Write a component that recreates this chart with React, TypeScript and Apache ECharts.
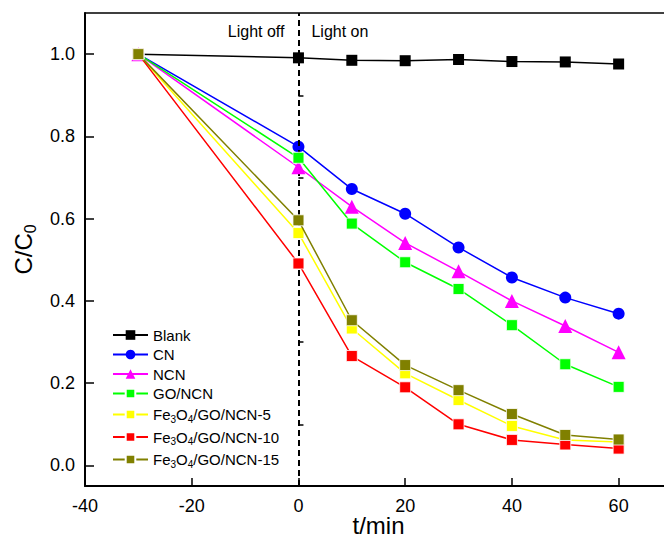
import React, { useEffect, useRef } from 'react';
import * as echarts from 'echarts';

const times = [-30, 0, 10, 20, 30, 40, 50, 60];
const seriesNames = ['Blank', 'CN', 'NCN', 'GO/NCN', 'Fe3O4/GO/NCN-5', 'Fe3O4/GO/NCN-10', 'Fe3O4/GO/NCN-15'];
const blank = [1.0, 0.991, 0.985, 0.984, 0.987, 0.982, 0.981, 0.976];
const cn = [1.0, 0.775, 0.672, 0.612, 0.53, 0.457, 0.408, 0.369];
const ncn = [1.0, 0.725, 0.629, 0.541, 0.472, 0.4, 0.339, 0.275];
const goNcn = [1.0, 0.748, 0.588, 0.494, 0.429, 0.341, 0.246, 0.191];
const fe5 = [1.0, 0.565, 0.333, 0.224, 0.159, 0.096, 0.062, 0.057];
const fe10 = [1.0, 0.491, 0.266, 0.19, 0.1, 0.062, 0.051, 0.041];
const fe15 = [1.0, 0.596, 0.353, 0.244, 0.183, 0.125, 0.074, 0.063];
const xTicks = [-40, -20, 0, 20, 40, 60];
const yTicks = [0, 0.2, 0.4, 0.6, 0.8, 1.0];
const yMinorTicks = [0.1, 0.3, 0.5, 0.7, 0.9];

const FONT = '"Liberation Sans", Arial, sans-serif';

const allValues = [blank, cn, ncn, goNcn, fe5, fe10, fe15];
const colors = ['#000000', '#0000ff', '#ff00ff', '#00ff00', '#ffff00', '#ff0000', '#808000'];
const symbols = ['rect', 'circle', 'triangle', 'rect', 'rect', 'rect', 'rect'];
const sizes = [11, 12, 14, 11, 11, 11, 11];

export default function App() {
  const ref = useRef<HTMLDivElement>(null);
  useEffect(() => {
    if (!ref.current) return;
    const chart = echarts.init(ref.current, undefined, { renderer: 'svg' });
    const series: any[] = seriesNames.map((name, i) => ({
      name,
      type: 'line',
      data: times.map((t, j) => [t, allValues[i][j]]),
      symbol: symbols[i],
      symbolSize: sizes[i],
      showSymbol: true,
      lineStyle: { color: colors[i], width: 1.5 },
      itemStyle: {
        color: colors[i],
        borderColor: i >= 3 ? '#ffffff' : colors[i],
        borderWidth: i >= 3 ? 0.8 : 0,
      },
      z: 3 + i,
    }));
    series[0].markLine = {
      silent: true,
      symbol: 'none',
      label: { show: false },
      lineStyle: { color: '#000', width: 2, type: [6, 4] },
      data: [{ xAxis: 0 }],
    };
    chart.setOption({
      animation: false,
      backgroundColor: '#ffffff',
      textStyle: { fontFamily: FONT },
      grid: { left: 85, top: 13, right: 0, bottom: 49, outerBoundsMode: 'none', containLabel: false },
      legend: {
        orient: 'vertical',
        left: 112,
        top: 327,
        padding: 0,
        itemWidth: 35,
        itemHeight: 12,
        itemGap: 3.5,
        textStyle: {
          fontFamily: FONT,
          fontSize: 15,
          color: '#000',
          lineHeight: 16,
          rich: { s: { fontSize: 10, fontFamily: FONT, color: '#000', verticalAlign: 'bottom', lineHeight: 19 } },
        },
        formatter: (name: string) =>
          name.startsWith('Fe3O4') ? 'Fe{s|3}O{s|4}' + name.slice(5) : name,
        data: seriesNames,
      },
      xAxis: [
        {
          type: 'value',
          min: -40,
          max: 70,
          position: 'bottom',
          name: 't/min',
          nameLocation: 'middle',
          nameGap: 29,
          nameMoveOverlap: false,
          nameTextStyle: { fontFamily: FONT, fontSize: 24, lineHeight: 20, color: '#000' },
          axisLine: { show: true, onZero: false, lineStyle: { color: '#000', width: 2 } },
          axisTick: { show: true, inside: true, length: 8, customValues: xTicks, lineStyle: { color: '#000', width: 1.5 } },
          axisLabel: { customValues: xTicks, fontFamily: FONT, fontSize: 18, color: '#000', margin: 11 },
          splitLine: { show: false },
        },
        {
          type: 'value',
          min: -40,
          max: 70,
          position: 'top',
          axisLine: { show: true, onZero: false, lineStyle: { color: '#000', width: 1.5 } },
          axisTick: { show: false },
          axisLabel: { show: false },
          splitLine: { show: false },
        },
      ],
      yAxis: [
        {
          type: 'value',
          min: -0.05,
          max: 1.1,
          position: 'left',
          name: 'C/C{s|0}',
          nameLocation: 'middle',
          nameGap: 47,
          nameRotate: 90,
          nameTextStyle: {
            fontFamily: FONT,
            fontSize: 24,
            color: '#000',
            lineHeight: 30,
            rich: { s: { fontSize: 16, fontFamily: FONT, color: '#000', verticalAlign: 'bottom', lineHeight: 30 } },
          },
          axisLine: { show: true, onZero: false, lineStyle: { color: '#000', width: 2 } },
          axisTick: { show: true, inside: true, length: 9, customValues: yTicks, lineStyle: { color: '#000', width: 1.5 } },
          axisLabel: {
            customValues: yTicks,
            fontFamily: FONT,
            fontSize: 18,
            color: '#000',
            margin: 10,
            formatter: (v: number) => v.toFixed(1),
          },
          splitLine: { show: false },
        },
        {
          type: 'value',
          min: -0.05,
          max: 1.1,
          position: 'left',
          alignTicks: false,
          axisLine: { show: false },
          axisTick: { show: true, inside: true, length: 5, customValues: yMinorTicks, lineStyle: { color: '#000', width: 1.5 } },
          axisLabel: { show: false, customValues: yMinorTicks },
          splitLine: { show: false },
        },
      ],
      series,
    });
    const p = chart.convertToPixel({ xAxisIndex: 0, yAxisIndex: 0 }, [0, 1.054]) as number[];
    chart.setOption({
      graphic: [
        {
          type: 'text',
          x: p[0] - 14,
          y: p[1],
          style: { text: 'Light off', fontFamily: FONT, fontSize: 16, fill: '#000', align: 'right', verticalAlign: 'middle' },
        },
        {
          type: 'text',
          x: p[0] + 13,
          y: p[1],
          style: { text: 'Light on', fontFamily: FONT, fontSize: 16, fill: '#000', align: 'left', verticalAlign: 'middle' },
        },
      ],
    });
    return () => chart.dispose();
  }, []);
  return <div ref={ref} style={{ position: 'fixed', left: 0, top: 0, width: 672, height: 535 }} />;
}
